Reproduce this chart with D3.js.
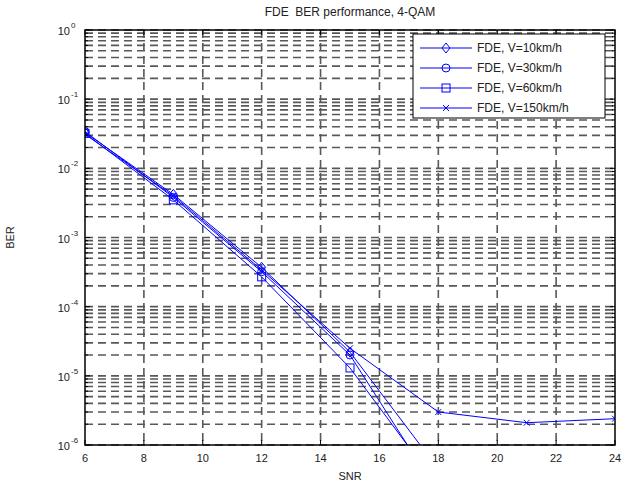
<!DOCTYPE html>
<html>
<head>
<meta charset="utf-8">
<script src="https://cdn.jsdelivr.net/npm/d3@7"></script>
<style>
  html, body { margin: 0; padding: 0; background: #fff; }
  svg text { font-family: "Liberation Sans", Arial, sans-serif; fill: #222; }
</style>
</head>
<body>
<svg id="chart" width="626" height="489"></svg>
<script>
// ── DATA ────────────────────────────────────────────────────
const snr = [6, 9, 12, 15, 18, 21, 24];
const ber10  = [0.033, 0.0042, 3.7e-4, 2.2e-5, 4.5e-7, null, null];
const ber30  = [0.034, 0.0038, 3.2e-4, 2.0e-5, 2.0e-7, null, null];
const ber60  = [0.032, 0.0035, 2.7e-4, 1.3e-5, 2.5e-7, null, null];
const ber150 = [0.031, 0.0040, 3.4e-4, 2.5e-5, 3.0e-6, 2.1e-6, 2.4e-6];
const seriesNames = ['FDE, V=10km/h', 'FDE, V=30km/h', 'FDE, V=60km/h', 'FDE, V=150km/h'];
const markers = ['diamond', 'circle', 'square', 'x'];
const xTicks = [6, 8, 10, 12, 14, 16, 18, 20, 22, 24];
const yExps = [0, -1, -2, -3, -4, -5, -6];

// ── LAYOUT ──────────────────────────────────────────────────
const L = 85, R = 615, T = 30, B = 445;
const BLUE = '#0000ff';

const svg = d3.select('#chart');
const x = d3.scaleLinear().domain([6, 24]).range([L, R]);
const y = d3.scaleLog().domain([1e-6, 1]).range([B, T]);

// grid
const minorVals = [];
yExps.slice(1).forEach(e => {
  for (let k = 1; k <= 9; k++) minorVals.push(k * Math.pow(10, e));
});
minorVals.push(1);

const grid = svg.append('g')
  .attr('stroke', '#585858')
  .attr('stroke-width', 1.6)
  .attr('stroke-dasharray', '8,5');

grid.selectAll('line.h')
  .data(minorVals)
  .join('line')
  .attr('class', 'h')
  .attr('x1', L).attr('x2', R)
  .attr('y1', d => y(d)).attr('y2', d => y(d));

grid.selectAll('line.v')
  .data(xTicks.slice(1, -1))
  .join('line')
  .attr('class', 'v')
  .attr('y1', T).attr('y2', B)
  .attr('x1', d => x(d)).attr('x2', d => x(d));

// ── SERIES ──────────────────────────────────────────────────
const allSeries = [ber10, ber30, ber60, ber150];

svg.append('defs').append('clipPath').attr('id', 'clip')
  .append('rect').attr('x', L).attr('y', T).attr('width', R - L).attr('height', B - T);

const plot = svg.append('g').attr('clip-path', 'url(#clip)');

const line = d3.line()
  .defined(d => d[1] != null)
  .x(d => x(d[0]))
  .y(d => y(d[1]));

function drawMarker(g, type, cx, cy) {
  const s = 4;
  if (type === 'diamond') {
    g.append('path').attr('d', `M${cx},${cy - s - 1}L${cx + s},${cy}L${cx},${cy + s + 1}L${cx - s},${cy}Z`);
  } else if (type === 'circle') {
    g.append('circle').attr('cx', cx).attr('cy', cy).attr('r', s);
  } else if (type === 'square') {
    g.append('rect').attr('x', cx - s).attr('y', cy - s).attr('width', 2 * s).attr('height', 2 * s);
  } else {
    g.append('path').attr('d', `M${cx - 3},${cy - 3}L${cx + 3},${cy + 3}M${cx - 3},${cy + 3}L${cx + 3},${cy - 3}`);
  }
}

allSeries.forEach((vals, i) => {
  const pts = snr.map((s, j) => [s, vals[j]]);
  plot.append('path')
    .datum(pts)
    .attr('fill', 'none')
    .attr('stroke', BLUE)
    .attr('stroke-width', 1)
    .attr('d', line);
  const mg = plot.append('g').attr('fill', 'none').attr('stroke', BLUE).attr('stroke-width', 1);
  pts.filter(p => p[1] != null).forEach(p => drawMarker(mg, markers[i], x(p[0]), y(p[1])));
});

// ── AXES BOX + TICKS ────────────────────────────────────────
const ax = svg.append('g').attr('stroke', '#000').attr('stroke-width', 1);
ax.append('rect')
  .attr('x', L).attr('y', T).attr('width', R - L).attr('height', B - T)
  .attr('fill', 'none').attr('stroke-width', 1.5);

const majT = 5, minT = 3;
xTicks.forEach(v => {
  ax.append('line').attr('x1', x(v)).attr('x2', x(v)).attr('y1', B).attr('y2', B - majT);
  ax.append('line').attr('x1', x(v)).attr('x2', x(v)).attr('y1', T).attr('y2', T + majT);
});
minorVals.forEach(v => {
  const major = Math.abs(Math.log10(v) - Math.round(Math.log10(v))) < 1e-9;
  const len = major ? majT : minT;
  ax.append('line').attr('x1', L).attr('x2', L + len).attr('y1', y(v)).attr('y2', y(v));
  ax.append('line').attr('x1', R).attr('x2', R - len).attr('y1', y(v)).attr('y2', y(v));
});

// x tick labels
svg.append('g').selectAll('text')
  .data(xTicks)
  .join('text')
  .attr('x', d => x(d))
  .attr('y', B + 17)
  .attr('text-anchor', 'middle')
  .attr('font-size', 11)
  .text(d => d);

// y tick labels: "10" right-aligned, exponent raised after it
const ylg = svg.append('g');
ylg.selectAll('text.base')
  .data(yExps)
  .join('text')
  .attr('class', 'base')
  .attr('x', L - 15)
  .attr('y', d => y(Math.pow(10, d)) + 5)
  .attr('text-anchor', 'end')
  .attr('font-size', 11)
  .text('10');
ylg.selectAll('text.sup')
  .data(yExps)
  .join('text')
  .attr('class', 'sup')
  .attr('x', L - 14)
  .attr('y', d => y(Math.pow(10, d)) - 2)
  .attr('font-size', 8)
  .text(d => d === 0 ? '0' : '-' + Math.abs(d));

// title & labels
svg.append('text')
  .attr('x', (L + R) / 2)
  .attr('y', 16)
  .attr('text-anchor', 'middle')
  .attr('font-size', 12)
  .style('white-space', 'pre')
  .text('FDE  BER performance, 4-QAM');

svg.append('text')
  .attr('x', (L + R) / 2)
  .attr('y', 480)
  .attr('text-anchor', 'middle')
  .attr('font-size', 11)
  .text('SNR');

svg.append('text')
  .attr('transform', `translate(14,${(T + B) / 2}) rotate(-90)`)
  .attr('text-anchor', 'middle')
  .attr('font-size', 11)
  .text('BER');

// ── LEGEND ──────────────────────────────────────────────────
const lg = svg.append('g');
lg.append('rect')
  .attr('x', 413).attr('y', 34).attr('width', 192).attr('height', 84)
  .attr('fill', '#fff').attr('stroke', '#000').attr('stroke-width', 1);

seriesNames.forEach((name, i) => {
  const ly = 48 + i * 20;
  lg.append('line')
    .attr('x1', 420).attr('x2', 472).attr('y1', ly).attr('y2', ly)
    .attr('stroke', BLUE).attr('stroke-width', 1);
  const mg = lg.append('g').attr('fill', 'none').attr('stroke', BLUE).attr('stroke-width', 1);
  drawMarker(mg, markers[i], 446, ly);
  lg.append('text')
    .attr('x', 477).attr('y', ly + 4)
    .attr('font-size', 12)
    .text(name);
});
</script>
</body>
</html>
